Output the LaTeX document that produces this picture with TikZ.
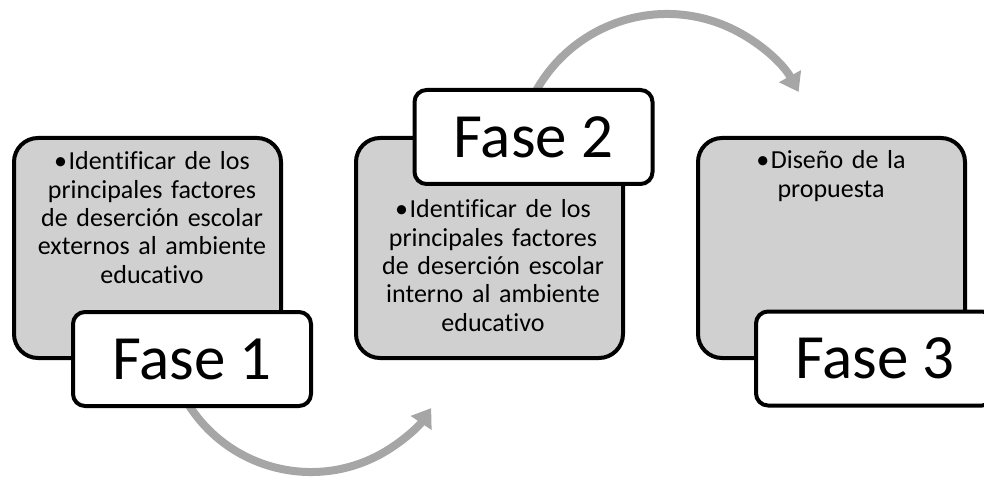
\documentclass[tikz,border=0pt]{standalone}
\usepackage{fontspec}
\setmainfont{Carlito}[Ligatures=NoCommon]
\definecolor{caja_gris}{RGB}{208, 208, 208}
\definecolor{flecha_gris}{RGB}{166, 166, 166}
\usetikzlibrary{arrows.meta, positioning}
\newcommand{\punto}{•\kern1.5pt}

\begin{document}
\begin{tikzpicture}[x=1pt, y=-1pt,
        caja/.style={draw=black, fill=caja_gris, line width=4pt, rounded corners=24pt,
                     minimum width=267pt, minimum height=220pt, inner sep=0pt},
        fase/.style={draw=black, fill=white, line width=4pt, rounded corners=12pt,
                     minimum width=238pt, minimum height=94pt, inner sep=0pt,
                     font=\fontsize{63}{70}\selectfont},
        txt/.style={anchor=base, text width=240pt, align=center, inner sep=0pt,
                    font=\fontsize{26}{28.3}\selectfont},
        flecha/.style={draw=flecha_gris, line width=8pt,
                       -{Triangle[length=18pt, width=24pt]}}]
        \useasboundingbox (0,0) rectangle (984,478);
        % flechas entre fases
        \coordinate (f1) at (185.4, 399.5);
        \draw[flecha] (f1) arc[start angle=150, end angle=34, radius=145];
        \coordinate (f2) at (531.1, 100.6);
        \draw[flecha] (f2) arc[start angle=205, end angle=331.3, radius=150];
        % fase 1
        \node[caja] (c1) at (147.5, 248) {};
          \node[txt] (t1) at (152, 170) {\punto Identificar de los\\ principales factores\\
            de deserción escolar\\ externos al ambiente\\ educativo};
        \node[fase] (e1) at (192, 359) {Fase 1};
        % fase 2
        \node[caja] (c2) at (489.5, 248) {};
          \node[txt] (t2) at (493, 218) {\punto Identificar de los\\ principales factores\\
            de deserción escolar\\ interno al ambiente\\ educativo};
        \node[fase] (e2) at (533.5, 137) {Fase 2};
        % fase 3
        \node[caja] (c3) at (831.5, 248) {};
          \node[txt] (t3) at (831, 169) {\punto Diseño de la\\ propuesta};
        \node[fase] (e3) at (875, 358.5) {Fase 3};
      \end{tikzpicture}
\end{document}
